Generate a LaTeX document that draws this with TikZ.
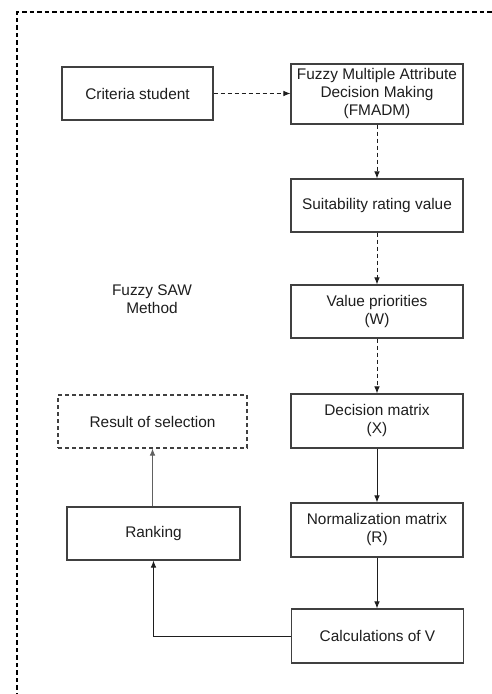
\documentclass[tikz,border=0pt]{standalone}
\usepackage{fontspec}
\setmainfont{Liberation Sans}
\usetikzlibrary{arrows.meta}
\definecolor{ink}{RGB}{30,30,30}
\begin{document}
\begin{tikzpicture}[x=1pt,y=-1pt,
  box/.style={draw=ink!85, line width=1.1pt, rectangle, inner sep=0pt, align=center,
    text=ink, font=\fontsize{15.4}{18}\selectfont},
  lbl/.style={inner sep=0pt, align=center, text=ink, font=\fontsize{15.4}{18}\selectfont},
  conn/.style={draw=ink, line width=0.9pt, -{Latex[length=7pt,width=5.5pt]}},
  dconn/.style={conn, dash pattern=on 4pt off 3pt}]
\clip (0,0) rectangle (492,694);
\fill[white] (0,0) rectangle (492,694);
\draw[line width=2.6pt, dash pattern=on 4.5pt off 3pt, black] (17,712) -- (17,12) -- (510,12);
\node[box, minimum width=151pt, minimum height=53pt] (crit) at (137.5,93.5) {Criteria student};
\node[box, minimum width=172pt, minimum height=60pt] (fm) at (377,94) {Fuzzy Multiple Attribute\\Decision Making\\(FMADM)};
\node[box, minimum width=172pt, minimum height=53pt] (suit) at (377,205.5) {Suitability rating value};
\node[box, minimum width=172pt, minimum height=53pt] (val) at (377,311.5) {Value priorities\\(W)};
\node[box, minimum width=172pt, minimum height=54pt] (dec) at (377,421) {Decision matrix\\(X)};
\node[box, minimum width=172pt, minimum height=54pt] (norm) at (377,530) {Normalization matrix\\(R)};
\node[box, minimum width=172pt, minimum height=54pt] (calc) at (377.5,636) {Calculations of V};
\node[box, minimum width=173pt, minimum height=53pt] (rank) at (153.5,533.5) {Ranking};
\node[box, dashed, dash pattern=on 4pt off 3pt, minimum width=189pt, minimum height=53pt] (res) at (152.5,421.5) {Result of selection};
\node[lbl] (saw) at (152,299) {Fuzzy SAW\\Method};
\draw[dconn] (crit.east) -- (fm.west |- crit.east);
\draw[dconn] (fm.south) -- (suit.north);
\draw[dconn] (suit.south) -- (val.north);
\draw[dconn] (val.south) -- (dec.north);
\draw[conn] (dec.south) -- (norm.north);
\draw[conn] (norm.south) -- (calc.north -| norm.south);
\draw[conn] (calc.west) -| (rank.south);
\draw[conn, draw=ink!70] (rank.north -| res.south) -- (res.south);
\end{tikzpicture}
\end{document}
